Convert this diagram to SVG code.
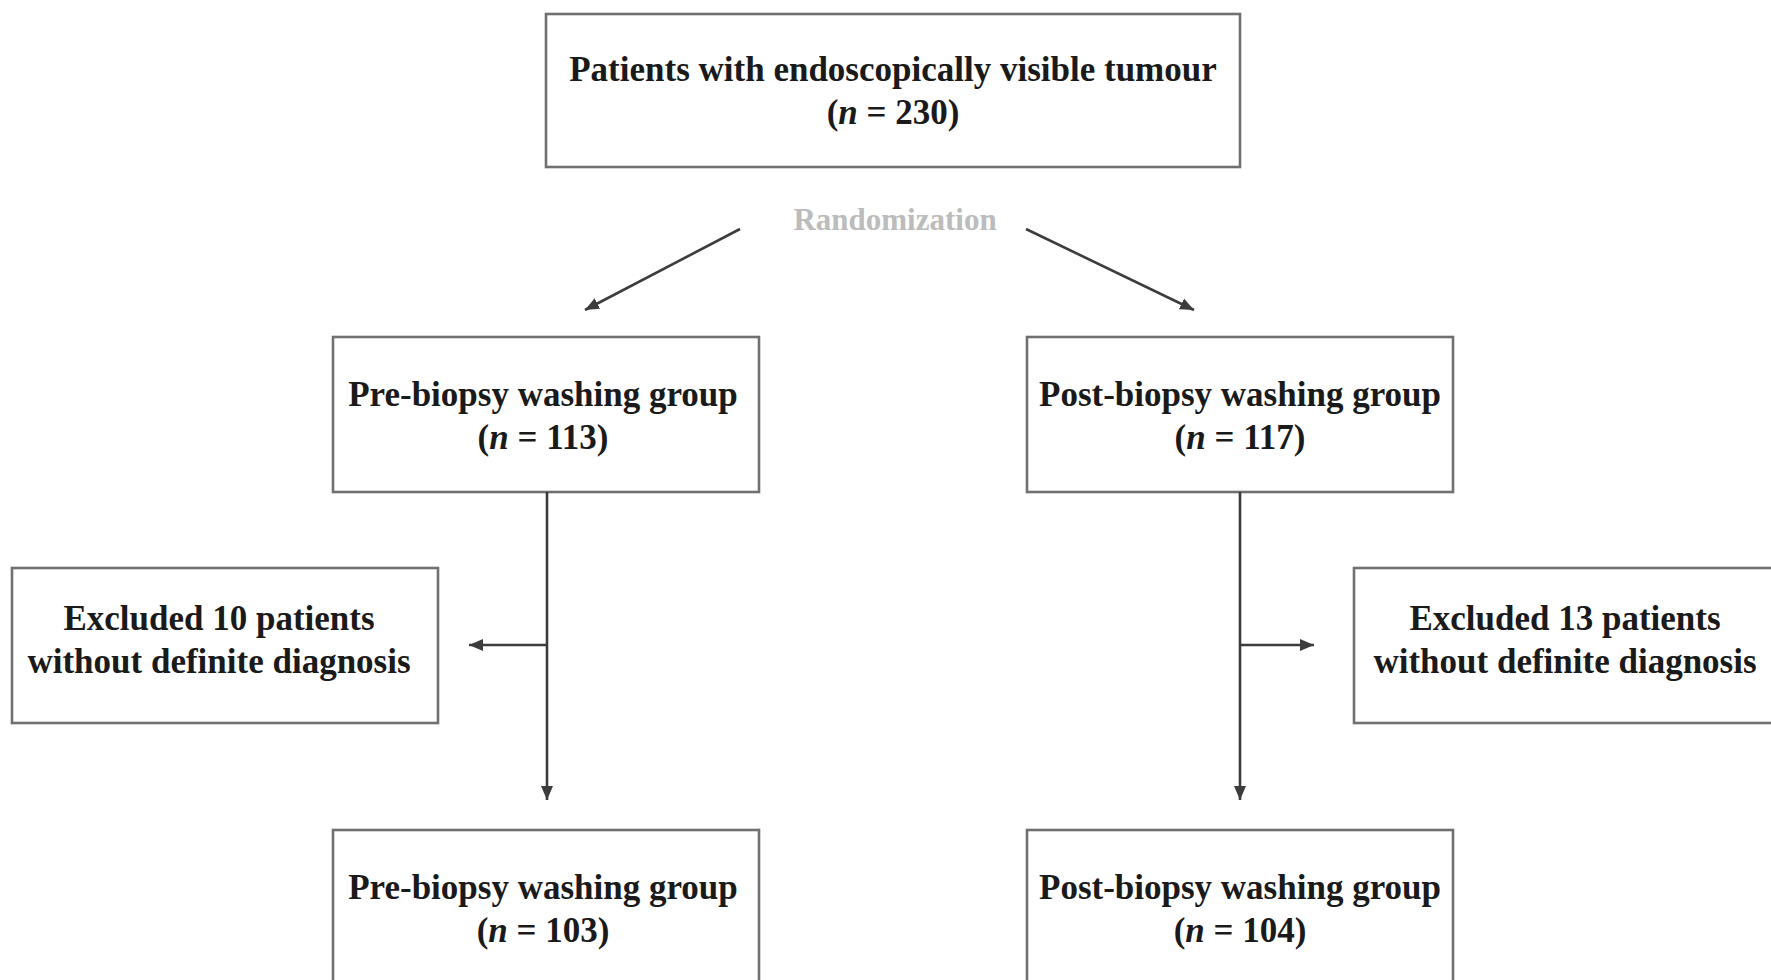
<svg xmlns="http://www.w3.org/2000/svg" width="1771" height="980" viewBox="0 0 1771 980">
<style>
.box{fill:#fff;stroke:#707070;stroke-width:2.6}
.t{font-family:"Liberation Serif","Times New Roman",serif;font-weight:bold;font-size:35px;fill:#1a1a1a;text-anchor:middle}
.rand{font-family:"Liberation Serif","Times New Roman",serif;font-weight:bold;font-size:31px;fill:#bcbcbc;text-anchor:middle}
.c{fill:none;stroke:#3c3c3c;stroke-width:2.6}
</style>
<defs>
<marker id="ah" markerUnits="userSpaceOnUse" markerWidth="16" markerHeight="14" refX="14" refY="7" orient="auto">
<path d="M0,1 L14,7 L0,13 Z" fill="#3c3c3c"/>
</marker>
</defs>
<rect width="1771" height="980" fill="#fff"/>
<g id="top">
<rect class="box" x="546" y="14" width="694" height="153"/>
<text class="t" x="893" y="81">Patients with endoscopically visible tumour</text>
<text class="t" x="893" y="124">(<tspan font-style="italic">n</tspan> = 230)</text>
</g>
<g id="randomization">
<text class="rand" x="895" y="230">Randomization</text>
</g>
<g id="pre1">
<rect class="box" x="333" y="337" width="426" height="155"/>
<text class="t" x="543" y="406">Pre-biopsy washing group</text>
<text class="t" x="543" y="449">(<tspan font-style="italic">n</tspan> = 113)</text>
</g>
<g id="post1">
<rect class="box" x="1027" y="337" width="426" height="155"/>
<text class="t" x="1240" y="406">Post-biopsy washing group</text>
<text class="t" x="1240" y="449">(<tspan font-style="italic">n</tspan> = 117)</text>
</g>
<g id="excl-left">
<rect class="box" x="12" y="568" width="426" height="155"/>
<text class="t" x="219" y="630">Excluded 10 patients</text>
<text class="t" x="219" y="673">without definite diagnosis</text>
</g>
<g id="excl-right">
<rect class="box" x="1354" y="568" width="430" height="155"/>
<text class="t" x="1565" y="630">Excluded 13 patients</text>
<text class="t" x="1565" y="673">without definite diagnosis</text>
</g>
<g id="pre2">
<rect class="box" x="333" y="830" width="426" height="160"/>
<text class="t" x="543" y="899">Pre-biopsy washing group</text>
<text class="t" x="543" y="942">(<tspan font-style="italic">n</tspan> = 103)</text>
</g>
<g id="post2">
<rect class="box" x="1027" y="830" width="426" height="160"/>
<text class="t" x="1240" y="899">Post-biopsy washing group</text>
<text class="t" x="1240" y="942">(<tspan font-style="italic">n</tspan> = 104)</text>
</g>
<g id="connectors">
<line class="c" x1="740" y1="229" x2="585" y2="310" marker-end="url(#ah)"/>
<line class="c" x1="1026" y1="229" x2="1194" y2="310" marker-end="url(#ah)"/>
<line class="c" x1="547" y1="492" x2="547" y2="800" marker-end="url(#ah)"/>
<line class="c" x1="547" y1="645" x2="469" y2="645" marker-end="url(#ah)"/>
<line class="c" x1="1240" y1="492" x2="1240" y2="800" marker-end="url(#ah)"/>
<line class="c" x1="1240" y1="645" x2="1314" y2="645" marker-end="url(#ah)"/>
</g>
</svg>
